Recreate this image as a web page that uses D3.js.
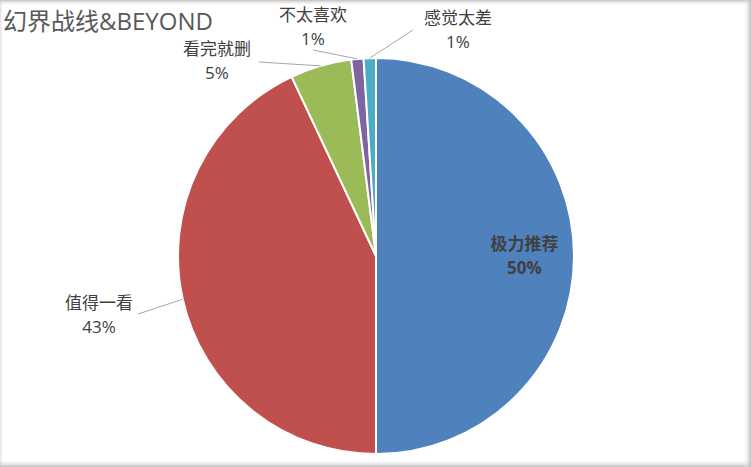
<!DOCTYPE html>
<html><head><meta charset="utf-8">
<script src="https://cdn.jsdelivr.net/npm/d3@7"></script>
<style>
html,body{margin:0;padding:0;background:#fff;}
svg{display:block;}
text{font-family:"Open Sans","Noto Sans CJK SC",sans-serif;}
</style></head>
<body><svg id="c" width="751" height="467"></svg>
<script>
const title = "幻界战线&BEYOND";
const categories = ["极力推荐","值得一看","看完就删","不太喜欢","感觉太差"];
const values = [50,43,5,1,1];
const percentLabels = ["50%","43%","5%","1%","1%"];
const colors = ["#4F81BD","#C0504D","#9BBB59","#8064A2","#4BACC6"];

const W=751,H=467, cx=376, cy=256, R=198;
const svg=d3.select("#c");

// shadowed frame
const defs=svg.append("defs");
function grad(id,x1,y1,x2,y2){
  const g=defs.append("linearGradient").attr("id",id).attr("x1",x1).attr("y1",y1).attr("x2",x2).attr("y2",y2);
  g.append("stop").attr("offset","0%").attr("stop-color","#b8b8b8").attr("stop-opacity",0.9);
  g.append("stop").attr("offset","100%").attr("stop-color","#ffffff").attr("stop-opacity",0);
}
grad("gt",0,0,0,1); grad("gb",0,1,0,0); grad("gr",1,0,0,0); grad("gl",0,0,1,0);
svg.append("rect").attr("x",0).attr("y",0).attr("width",W).attr("height",6).attr("fill","url(#gt)");
svg.append("rect").attr("x",0).attr("y",H-8).attr("width",W).attr("height",8).attr("fill","url(#gb)");
svg.append("rect").attr("x",W-8).attr("y",0).attr("width",8).attr("height",H).attr("fill","url(#gr)");
svg.append("rect").attr("x",0).attr("y",0).attr("width",4).attr("height",H).attr("fill","url(#gl)").attr("opacity",0.5);

svg.append("text").attr("x",3).attr("y",30).attr("font-size",24).attr("fill","#595959").text(title);

const pie=d3.pie().sort(null).value(d=>d)(values);
const arc=d3.arc().innerRadius(0).outerRadius(R);
const g=svg.append("g").attr("transform",`translate(${cx},${cy})`);
g.selectAll("path").data(pie).join("path")
  .attr("d",arc).attr("fill",(d,i)=>colors[i])
  .attr("stroke","#fff").attr("stroke-width",2).attr("stroke-linejoin","round");

// inside label for the first slice
const inner=d3.arc().innerRadius(R*0.75).outerRadius(R*0.75);
const c0=inner.centroid(pie[0]);
const t0=g.append("text").attr("text-anchor","middle").attr("fill","#404040").attr("font-weight","bold").attr("font-size",17);
t0.append("tspan").attr("x",c0[0]).attr("y",c0[1]-6).text(categories[0]);
t0.append("tspan").attr("x",c0[0]).attr("y",c0[1]+18).text(percentLabels[0]);

// outside labels (layout anchors, page coords): label center x, first line baseline, leader start
const outside=[null,
  {x:99, y:309, lx:138, ly:314},
  {x:217, y:55, lx:259, ly:62},
  {x:313, y:21, lx:313, ly:50},
  {x:458, y:24, lx:413, ly:30}
];
pie.forEach((d,i)=>{
  const o=outside[i]; if(!o) return;
  const a=(d.startAngle+d.endAngle)/2;
  const px=cx+R*Math.sin(a), py=cy-R*Math.cos(a);
  svg.append("line").attr("x1",o.lx).attr("y1",o.ly).attr("x2",px).attr("y2",py)
    .attr("stroke","#a6a6a6").attr("stroke-width",1);
  const t=svg.append("text").attr("text-anchor","middle").attr("fill","#404040").attr("font-size",17);
  t.append("tspan").attr("x",o.x).attr("y",o.y).text(categories[i]);
  t.append("tspan").attr("x",o.x).attr("y",o.y+24).text(percentLabels[i]);
});
</script></body></html>
